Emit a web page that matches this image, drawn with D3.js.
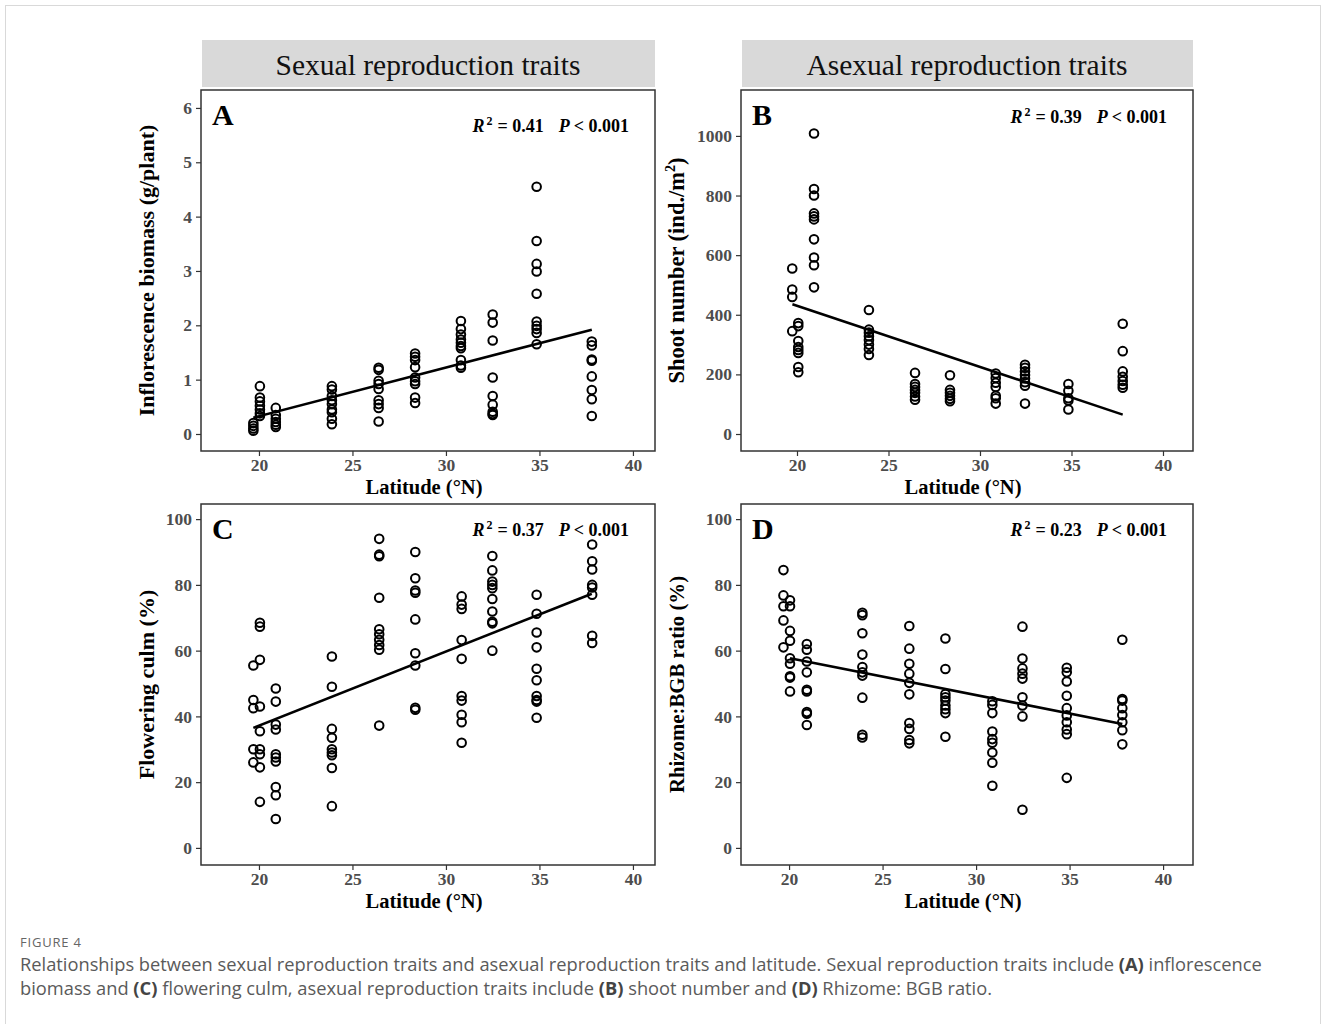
<!DOCTYPE html>
<html>
<head>
<meta charset="utf-8">
<script src="https://cdn.jsdelivr.net/npm/d3@7"></script>
<style>
  body { margin: 0; background: #fff; }
  svg { display: block; }
</style>
</head>
<body>
<svg width="1326" height="1024"></svg>
<script>
// latitude of each sampled population (°N)
const latA = [19.7, 20.05, 20.9, 23.9, 26.4, 28.35, 30.8, 32.5, 34.85, 37.8];
const latB = [19.74, 20.07, 20.93, 23.93, 26.45, 28.36, 30.86, 32.46, 34.83, 37.8];
const latC = [19.7, 20.05, 20.9, 23.9, 26.43, 28.36, 30.84, 32.48, 34.85, 37.82];
const latD = [19.7, 20.05, 20.95, 23.92, 26.43, 28.36, 30.87, 32.48, 34.85, 37.82];

// A: inflorescence biomass (g/plant)
const biomass = [
  [0.20, 0.15, 0.10, 0.06],
  [0.88, 0.67, 0.60, 0.52, 0.45, 0.38, 0.33],
  [0.48, 0.35, 0.28, 0.22, 0.17, 0.13],
  [0.88, 0.82, 0.70, 0.62, 0.55, 0.45, 0.40, 0.28, 0.18],
  [1.22, 1.18, 0.98, 0.92, 0.83, 0.62, 0.55, 0.48, 0.23],
  [1.48, 1.42, 1.36, 1.23, 1.04, 0.97, 0.92, 0.67, 0.57],
  [2.08, 1.93, 1.83, 1.74, 1.68, 1.62, 1.58, 1.36, 1.26, 1.22],
  [2.20, 2.05, 1.72, 1.04, 0.70, 0.54, 0.41, 0.37, 0.35],
  [4.55, 3.55, 3.13, 2.99, 2.58, 2.07, 1.99, 1.93, 1.86, 1.65],
  [1.70, 1.63, 1.37, 1.35, 1.06, 0.81, 0.64, 0.33]
];
// B: shoot number (ind./m2)
const shoots = [
  [555, 485, 460, 345],
  [372, 362, 312, 292, 282, 272, 225, 207],
  [1008, 822, 800, 740, 730, 720, 653, 592, 566, 492],
  [416, 350, 340, 328, 315, 300, 285, 265],
  [205, 168, 158, 148, 138, 126, 115],
  [197, 148, 138, 128, 118, 110],
  [203, 188, 172, 158, 128, 120, 102],
  [232, 222, 210, 198, 186, 174, 162, 102],
  [168, 145, 120, 112, 82],
  [370, 278, 210, 192, 178, 165, 155]
];
// C: flowering culm (%)
const culm = [
  [55.5, 45, 42.5, 30, 26],
  [68.5, 67.3, 57.2, 43, 35.5, 30, 28.5, 24.5, 14],
  [48.5, 44.5, 37.5, 36, 28.5, 27.5, 26.3, 18.5, 16, 8.8],
  [58.2, 49, 36.2, 33.5, 30, 29, 28.2, 24.3, 12.7],
  [94, 89.2, 88.7, 76.1, 66.5, 65, 63.3, 61.7, 60.3, 37.2],
  [90, 82, 78.3, 77.6, 69.5, 59.2, 55.5, 42.6, 42],
  [76.5, 74, 72.7, 63.2, 57.5, 46.2, 44.8, 40.5, 38.2, 32],
  [88.8, 84.4, 81, 80, 79, 75.7, 71.9, 68.8, 68.3, 60],
  [77, 71.2, 65.5, 61, 54.5, 51, 46.2, 45, 44.5, 39.6],
  [92.3, 87.2, 84.7, 80, 79.2, 77, 64.5, 62.3]
];
// D: rhizome:BGB ratio (%)
const rhizome = [
  [84.5, 76.8, 73.5, 69.2, 61],
  [75.3, 73.5, 66, 63, 57.7, 56, 52.2, 51.8, 47.6],
  [62, 60.3, 56.7, 53.4, 48.1, 47.6, 41.3, 40.8, 37.4],
  [71.5, 70.8, 65.3, 58.8, 55, 53.4, 52.4, 45.7, 34.4, 33.6],
  [67.5, 60.6, 56, 53, 50.2, 46.7, 38, 36.2, 32.8, 31.8],
  [63.7, 54.4, 46.8, 45.8, 44.8, 43.3, 42.2, 41, 33.8],
  [44.6, 43.5, 41, 35.4, 33.1, 32, 29, 25.9, 18.9],
  [67.3, 57.6, 54.6, 53, 51.5, 45.8, 43.3, 40, 11.6],
  [54.8, 53.4, 50.6, 46.3, 42.5, 40.3, 38.2, 36, 34.6, 21.3],
  [63.3, 45.3, 44.8, 42.5, 40.4, 38.2, 35.8, 31.5]
];

// fitted regression lines: [lat, value] at both ends
const fitA = [[19.7, 0.30], [37.8, 1.92]];
const fitB = [[19.75, 435], [37.8, 65]];
const fitC = [[19.7, 36.5], [37.8, 77.3]];
const fitD = [[20.05, 57.7], [37.82, 37.7]];

const xTicks = [20, 25, 30, 35, 40];
const stats = [["0.41", "0.001"], ["0.39", "0.001"], ["0.37", "0.001"], ["0.23", "0.001"]];
const strips = ["Sexual reproduction traits", "Asexual reproduction traits"];

const svg = d3.select("svg");
const serif = "'Liberation Serif', 'Times New Roman', serif";

svg.append("rect")
  .attr("x", 5.5).attr("y", 5.5).attr("width", 1315).attr("height", 1030)
  .attr("fill", "none").attr("stroke", "#d9d9d9");

const panels = [
  { id: "A", lat: latA, vals: biomass, fit: fitA, box: [201, 90, 454, 361],
    xd: [16.9, 41.18], yd: [-0.313, 6.33], yt: d3.range(0, 7), st: stats[0], sty: 42,
    ylab: ["Inflorescence biomass (g/plant)"], yls: 22, ylx: -47, strip: strips[0] },
  { id: "B", lat: latB, vals: shoots, fit: fitB, box: [741, 90, 452, 361],
    xd: [16.94, 41.64], yd: [-57, 1154], yt: d3.range(0, 1001, 200), st: stats[1], sty: 33,
    ylab: ["Shoot number (ind./m", "2", ")"], yls: 22.5, ylx: -57, strip: strips[1] },
  { id: "C", lat: latC, vals: culm, fit: fitC, box: [201, 504, 454, 361],
    xd: [16.9, 41.18], yd: [-5.2, 104.6], yt: d3.range(0, 101, 20), st: stats[2], sty: 32,
    ylab: ["Flowering culm (%)"], yls: 22, ylx: -47 },
  { id: "D", lat: latD, vals: rhizome, fit: fitD, box: [741, 504, 452, 361],
    xd: [17.43, 41.6], yd: [-5.2, 104.6], yt: d3.range(0, 101, 20), st: stats[3], sty: 32,
    ylab: ["Rhizome:BGB ratio (%)"], yls: 20.8, ylx: -57 }
];

panels.forEach(p => {
  const [bx, by, bw, bh] = p.box;
  const g = svg.append("g").attr("transform", `translate(${bx},${by})`);
  const x = d3.scaleLinear().domain(p.xd).range([0, bw]);
  const y = d3.scaleLinear().domain(p.yd).range([bh, 0]);

  if (p.strip) {
    g.append("rect").attr("x", 1).attr("y", -50).attr("width", bw - 1).attr("height", 47)
      .attr("fill", "#d9d9d9");
    g.append("text").attr("x", bw / 2).attr("y", -15).attr("text-anchor", "middle")
      .style("font-family", serif).style("font-size", "29.5px").attr("fill", "#111")
      .text(p.strip);
  }

  const xa = g.append("g").attr("transform", `translate(0,${bh})`)
    .call(d3.axisBottom(x).tickValues(xTicks).tickFormat(d3.format("d")).tickSize(5).tickPadding(3));
  const ya = g.append("g")
    .call(d3.axisLeft(y).tickValues(p.yt).tickFormat(d3.format("d")).tickSize(5).tickPadding(4));
  [xa, ya].forEach(a => {
    a.select(".domain").remove();
    a.selectAll(".tick line").attr("stroke", "#333").attr("stroke-width", 1.2);
    a.selectAll("text").style("font-family", serif).style("font-size", "17.5px")
      .style("font-weight", "bold").attr("fill", "#4d4d4d");
  });

  g.append("rect").attr("width", bw).attr("height", bh)
    .attr("fill", "none").attr("stroke", "#333").attr("stroke-width", 1.5);

  // axis titles
  g.append("text").attr("x", bw / 2 - 4).attr("y", bh + 43).attr("text-anchor", "middle")
    .style("font-family", serif).style("font-size", "20.5px").style("font-weight", "bold")
    .text("Latitude (°N)");
  const yl = g.append("text")
    .attr("transform", `translate(${p.ylx},${bh / 2}) rotate(-90)`)
    .attr("text-anchor", "middle")
    .style("font-family", serif).style("font-size", p.yls + "px").style("font-weight", "bold");
  yl.append("tspan").text(p.ylab[0]);
  if (p.ylab.length > 1) {
    yl.append("tspan").attr("dy", -9).style("font-size", "14px").text(p.ylab[1]);
    yl.append("tspan").attr("dy", 9).text(p.ylab[2]);
  }

  // panel letter and stats
  g.append("text").attr("x", 11).attr("y", 35)
    .style("font-family", serif).style("font-size", "30px").style("font-weight", "bold")
    .text(p.id);
  const s = g.append("text").attr("x", bw - 26).attr("y", p.sty)
    .attr("text-anchor", "end")
    .style("font-family", serif).style("font-size", "18px").style("font-weight", "bold");
  s.append("tspan").style("font-style", "italic").text("R");
  s.append("tspan").attr("dy", -7).attr("dx", 2).style("font-size", "12px").text("2");
  s.append("tspan").attr("dy", 7).attr("dx", 5).text(`= ${p.st[0]}`);
  s.append("tspan").attr("dx", 15).style("font-style", "italic").text("P");
  s.append("tspan").attr("dx", 4).text(`< ${p.st[1]}`);

  // points
  const pts = p.lat.flatMap((la, i) => p.vals[i].map(v => [la, v]));
  g.selectAll("circle").data(pts).enter().append("circle")
    .attr("cx", d => x(d[0])).attr("cy", d => y(d[1])).attr("r", 4.3)
    .attr("fill", "none").attr("stroke", "#000").attr("stroke-width", 2);

  g.append("path").datum(p.fit)
    .attr("d", d3.line().x(d => x(d[0])).y(d => y(d[1])))
    .attr("stroke", "#000").attr("stroke-width", 2.6).attr("fill", "none");
});

// caption
const cap = svg.append("g").style("font-family", "'Open Sans', 'Noto Sans', sans-serif");
cap.append("text").attr("x", 20).attr("y", 947).style("font-size", "13px")
  .style("letter-spacing", "0.8px").attr("fill", "#666").text("FIGURE 4");
const line1 = cap.append("text").attr("x", 20).attr("y", 971).style("font-size", "18.3px").attr("fill", "#5a5a5a");
line1.append("tspan").text("Relationships between sexual reproduction traits and asexual reproduction traits and latitude. Sexual reproduction traits include ");
line1.append("tspan").style("font-weight", "bold").attr("fill", "#444").text("(A)");
line1.append("tspan").text(" inflorescence");
const line2 = cap.append("text").attr("x", 20).attr("y", 995).style("font-size", "18.3px").attr("fill", "#5a5a5a");
line2.append("tspan").text("biomass and ");
line2.append("tspan").style("font-weight", "bold").attr("fill", "#444").text("(C)");
line2.append("tspan").text(" flowering culm, asexual reproduction traits include ");
line2.append("tspan").style("font-weight", "bold").attr("fill", "#444").text("(B)");
line2.append("tspan").text(" shoot number and ");
line2.append("tspan").style("font-weight", "bold").attr("fill", "#444").text("(D)");
line2.append("tspan").text(" Rhizome: BGB ratio.");
</script>
</body>
</html>
